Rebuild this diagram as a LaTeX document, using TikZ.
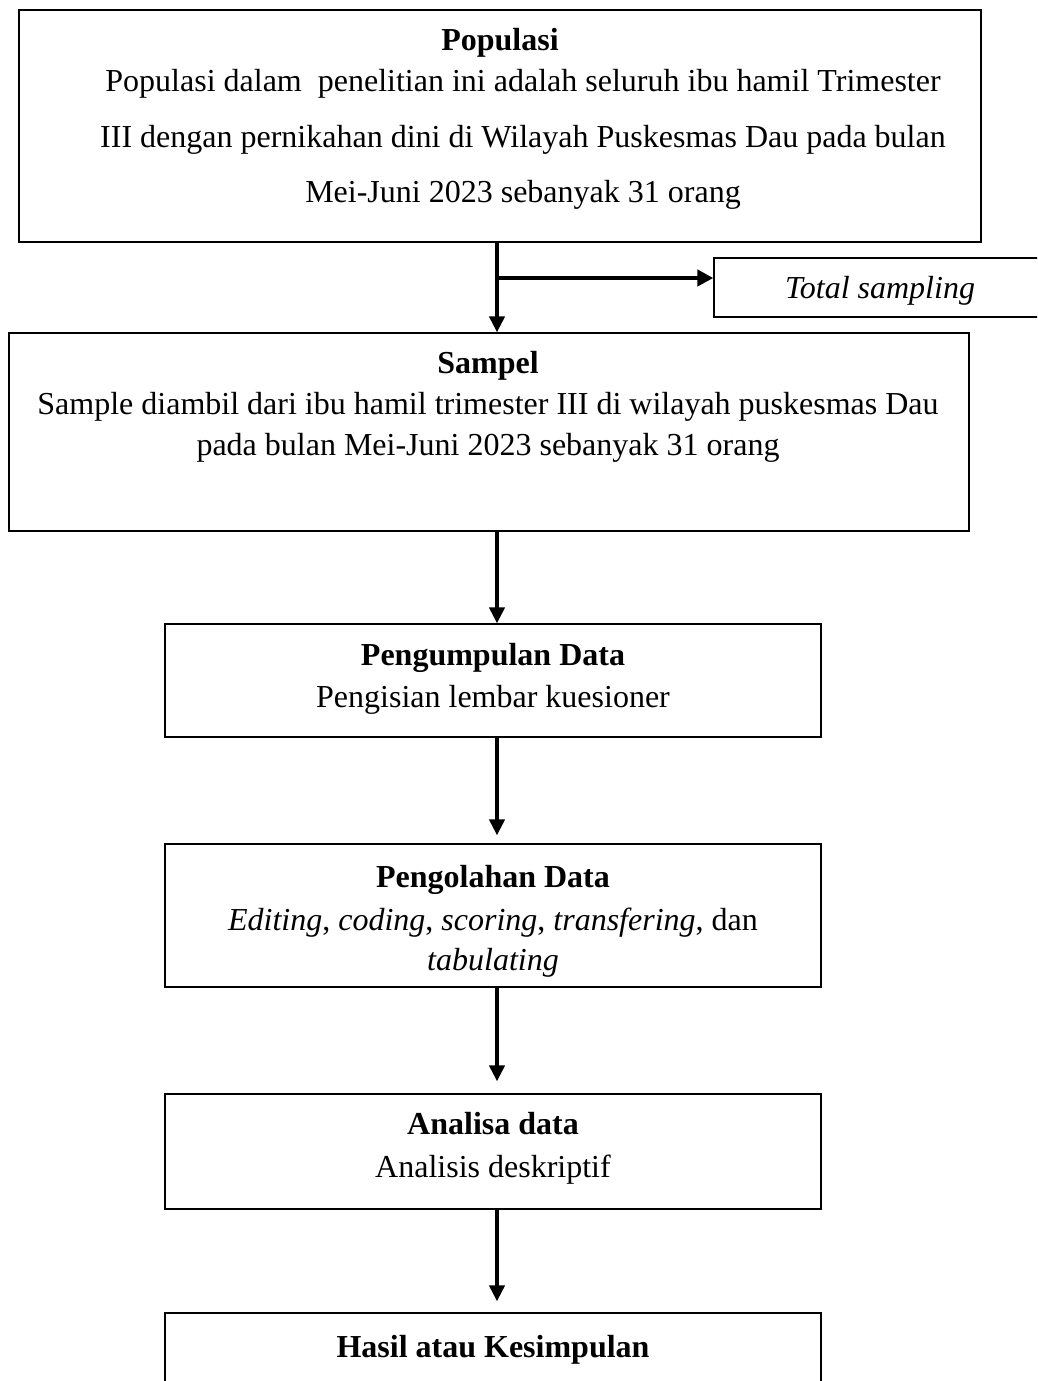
\documentclass[tikz,border=0pt]{standalone}
\usepackage{fontspec}
\setmainfont{Liberation Serif}
\usetikzlibrary{arrows.meta}
\begin{document}
\begin{tikzpicture}[x=1pt,y=-1pt,
  box/.style={draw=black, line width=1.2pt, inner sep=0pt, rectangle},
  txt/.style={anchor=base, inner sep=0pt, font=\fontsize{32}{38}\selectfont},
  arr/.style={line width=4pt, -{Triangle[length=16pt,width=15pt]}},
  brarr/.style={line width=4.8pt, -{Triangle[length=16pt,width=16pt]}}]
\useasboundingbox (0,0) rectangle (1037,1381);
\clip (0,0) rectangle (1037,1381);
\fill[white] (0,0) rectangle (1037,1381);
% boxes
\node[box, minimum width=962pt, minimum height=232pt] (pop) at (500,126) {};
\node[box, minimum width=346pt, minimum height=59pt] (tot) at (887,287.5) {};
\node[box, minimum width=960pt, minimum height=198pt] (samp) at (489,432) {};
\node[box, minimum width=656pt, minimum height=113pt] (kump) at (493,680.5) {};
\node[box, minimum width=656pt, minimum height=143pt] (olah) at (493,915.5) {};
\node[box, minimum width=656pt, minimum height=115pt] (anal) at (493,1151.5) {};
\node[box, minimum width=656pt, minimum height=117pt] (hasil) at (493,1371.5) {};
% texts
\node[txt] (popt) at (500,51) {\textbf{Populasi}};
\node[txt] (pop1) at (523,91) {Populasi dalam~ penelitian ini adalah seluruh ibu hamil Trimester};
\node[txt] (pop2) at (523,147) {III dengan pernikahan dini di Wilayah Puskesmas Dau pada bulan};
\node[txt] (pop3) at (523,202) {Mei-Juni 2023 sebanyak 31 orang};
\node[txt] (tott) at (880,298) {\textit{Total sampling}};
\node[txt] (sampt) at (488,373) {\textbf{Sampel}};
\node[txt] (samp1) at (488,414) {Sample diambil dari ibu hamil trimester III di wilayah puskesmas Dau};
\node[txt] (samp2) at (488,455) {pada bulan Mei-Juni 2023 sebanyak 31 orang};
\node[txt] (kumpt) at (493,665) {\textbf{Pengumpulan Data}};
\node[txt] (kump1) at (493,707) {Pengisian lembar kuesioner};
\node[txt] (olaht) at (493,887) {\textbf{Pengolahan Data}};
\node[txt] (olah1) at (493,930) {\textit{Editing}, \textit{coding}, \textit{scoring}, \textit{transfering}, dan};
\node[txt] (olah2) at (493,970) {\textit{tabulating}};
\node[txt] (analt) at (493,1134) {\textbf{Analisa data}};
\node[txt] (anal1) at (493,1177) {Analisis deskriptif};
\node[txt] (hasilt) at (493,1357) {\textbf{Hasil atau Kesimpulan}};
% connectors
\coordinate (ax) at (497,0);
\coordinate (brs) at (497,278);
\draw[arr] (pop.south -| ax) -- (samp.north -| ax);
\draw[brarr] (brs) -- (tot.west |- brs);
\draw[arr] (samp.south -| ax) -- (kump.north -| ax);
\draw[arr, shorten >=8pt] (kump.south -| ax) -- (olah.north -| ax);
\draw[arr, shorten >=12pt] (olah.south -| ax) -- (anal.north -| ax);
\draw[arr, shorten >=11pt] (anal.south -| ax) -- (hasil.north -| ax);
\end{tikzpicture}
\end{document}
